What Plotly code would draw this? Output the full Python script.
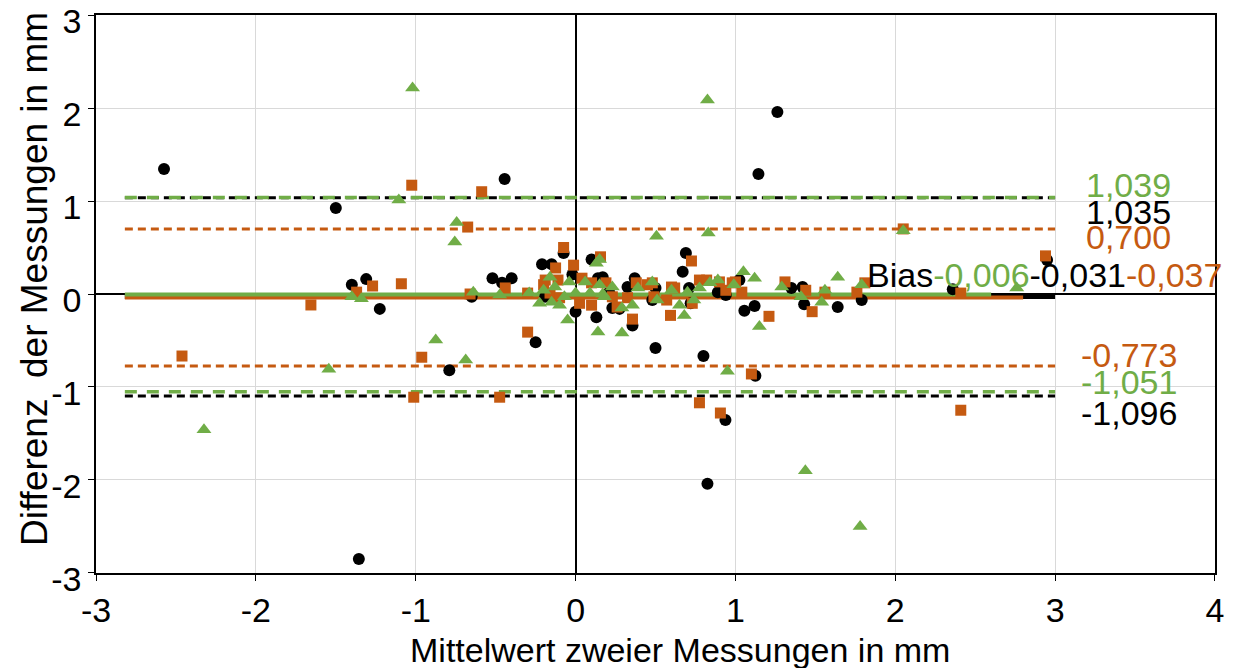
import plotly.graph_objects as go

# Mean of two measurements (x) and their difference (y), three comparisons
black_x = [-2.575, -1.5, -1.40, -1.31, -1.225, -1.356, -0.79, -0.65, -0.52, -0.46, -0.444, -0.40,
           -0.25, -0.21, -0.19, -0.15, -0.075, -0.02, 0.0, 0.10, 0.13, 0.14, 0.17, 0.21, 0.23,
           0.275, 0.325, 0.356, 0.37, 0.48, 0.50, 0.50, 0.67, 0.69, 0.71, 0.72, 0.80, 0.825, 0.89,
           0.94, 0.9375, 1.025, 1.056, 1.12, 1.125, 1.144, 1.2625, 1.35, 1.42, 1.43, 1.64, 1.79,
           2.36, 2.95]
black_y = [1.344, 0.925, 0.10, 0.16, -0.16, -2.85, -0.82, -0.03, 0.17, 0.12, 1.237, 0.17,
           -0.52, 0.32, -0.03, 0.32, 0.44, 0.21, -0.19, 0.37, -0.25, 0.17, 0.18, 0.02, -0.15,
           -0.16, 0.075, -0.34, 0.17, -0.065, 0.065, -0.58, 0.24, 0.44, 0.065, -0.10, -0.667, -2.04,
           0.02, -0.01, -1.355, 0.15, -0.18, -0.13, -0.88, 1.29, 1.957, 0.065, 0.075, -0.11, -0.14,
           -0.065, 0.05, 0.366]

orange_x = [-2.4625, -1.656, -1.37, -1.27, -1.09, -1.025, -1.0125, -0.9625, -0.675, -0.66, -0.5875,
            -0.475, -0.44, -0.30, -0.30, -0.20, -0.19, -0.16, -0.125, -0.11, -0.10, -0.075, -0.0125,
            0.025, 0.04, 0.10, 0.10, 0.156, 0.19, 0.23, 0.26, 0.325, 0.356, 0.38, 0.45, 0.48, 0.49,
            0.57, 0.594, 0.60, 0.62, 0.725, 0.73, 0.775, 0.775, 0.82, 0.90, 0.906, 0.94, 0.98, 1.0,
            1.04, 1.10, 1.21, 1.31, 1.44, 1.48, 1.56, 1.76, 1.81, 2.05, 2.41, 2.41, 2.94]
orange_y = [-0.667, -0.118, 0.02, 0.086, 0.11, 1.17, -1.11, -0.68, 0.72, 0.0, 1.10,
            -1.11, 0.065, -0.41, 0.01, 0.10, 0.15, 0.01, 0.28, 0.15, -0.04, 0.50, 0.31,
            -0.10, 0.17, 0.12, -0.12, 0.40, 0.12, -0.03, -0.14, -0.04, -0.27, 0.12, 0.10, 0.12, -0.03,
            -0.065, -0.23, 0.075, 0.065, 0.355, -0.10, 0.15, -1.17, 0.15, 0.13, -1.28, 0.04, 0.12, 0.13,
            0.02, -0.86, -0.24, 0.13, 0.04, -0.19, 0.02, 0.02, 0.12, 0.70, 0.01, -1.25, 0.41]

green_x = [-2.325, -1.544, -1.40, -1.34, -1.106, -1.02, -0.875, -0.756, -0.744, -0.6875, -0.64,
           -0.475, -0.29, -0.225, -0.20, -0.16, -0.15, -0.13, -0.10, -0.07, -0.05, -0.04, 0.0, 0.06,
           0.09, 0.13, 0.14, 0.15, 0.15, 0.17, 0.18, 0.23, 0.29, 0.29, 0.356, 0.39, 0.48, 0.506, 0.51,
           0.60, 0.65, 0.68, 0.70, 0.74, 0.775, 0.825, 0.83, 0.84, 0.89, 0.95, 0.99, 1.05, 1.12, 1.15,
           1.29, 1.41, 1.4375, 1.54, 1.56, 1.64, 1.78, 1.79, 2.05, 2.76]
green_y = [-1.46, -0.81, -0.03, -0.05, 1.01, 2.215, -0.495, 0.56, 0.77, -0.71, 0.02,
           -0.01, 0.01, -0.10, 0.04, 0.18, -0.09, 0.075, -0.12, -0.03, -0.28, 0.13, 0.01, 0.13,
           0.01, 0.33, -0.41, 0.10, 0.37, 0.0, -0.03, 0.075, -0.15, -0.42, -0.12, 0.065, 0.13, 0.62, -0.065,
           0.04, -0.12, -0.23, 0.02, -0.065, 0.065, 2.086, 0.655, 0.12, 0.15, -0.83, 0.10, 0.24, 0.17, -0.35,
           0.075, -0.03, -1.90, -0.09, 0.04, 0.18, -2.50, 0.10, 0.68, 0.065]

# Bias and limits of agreement
black_bias, black_upper, black_lower = -0.031, 1.035, -1.096
orange_bias, orange_upper, orange_lower = -0.037, 0.700, -0.773
green_bias, green_upper, green_lower = -0.006, 1.039, -1.051

line_x_start = -2.82
line_x_end = 3.0
bias_end = {"black": 3.0, "orange": 2.8, "green": 2.6}

BLACK = "#000000"
ORANGE = "#C55A11"
GREEN = "#70AD47"
FONT = "Liberation Sans, Arial, sans-serif"
FS = 34

def fmt(v):
    return f"{v:.3f}".replace(".", ",")

fig = go.Figure()

def hline(y, color, dash, width, x1=line_x_end):
    fig.add_trace(go.Scatter(x=[line_x_start, x1], y=[y, y], mode="lines",
                             line=dict(color=color, dash=dash, width=width),
                             showlegend=False, hoverinfo="skip"))

# limits of agreement (dashed)
hline(orange_upper, ORANGE, "8px,5px", 3)
hline(orange_lower, ORANGE, "8px,5px", 3)
hline(black_upper, BLACK, "8px,5px", 3)
hline(black_lower, BLACK, "8px,5px", 3)
hline(green_upper, GREEN, "12px,10px", 3.5)
hline(green_lower, GREEN, "12px,10px", 3.5)

# bias lines (solid)
hline(black_bias, BLACK, "solid", 4, bias_end["black"])
hline(orange_bias, ORANGE, "solid", 4, bias_end["orange"])
hline(green_bias, GREEN, "solid", 4, bias_end["green"])

fig.add_trace(go.Scatter(x=black_x, y=black_y, mode="markers", showlegend=False,
                         marker=dict(symbol="circle", size=12, color=BLACK)))
fig.add_trace(go.Scatter(x=orange_x, y=orange_y, mode="markers", showlegend=False,
                         marker=dict(symbol="square", size=11, color=ORANGE)))
fig.add_trace(go.Scatter(x=green_x, y=green_y, mode="markers", showlegend=False,
                         marker=dict(symbol="triangle-up", size=13, color=GREEN)))

# value labels on the right
labels = [
    (fmt(green_upper), GREEN, 1.17),
    (fmt(black_upper), BLACK, 0.88),
    (fmt(orange_upper), ORANGE, 0.61),
    (fmt(orange_lower), ORANGE, -0.656),
    (fmt(green_lower), GREEN, -0.946),
    (fmt(black_lower), BLACK, -1.28),
]
for text, color, ypos in labels:
    fig.add_annotation(x=3.46, y=ypos, xref="x", yref="y", text=text, showarrow=False,
                       font=dict(family=FONT, size=FS, color=color),
                       xanchor="center", yanchor="middle")

bias_text = (f"Bias<span style='color:{GREEN}'>{fmt(green_bias)}</span>"
             f"{fmt(black_bias)}<span style='color:{ORANGE}'>{fmt(orange_bias)}</span>")
fig.add_annotation(x=1.81, y=0.2, xref="x", yref="y", text=bias_text, showarrow=False,
                   font=dict(family=FONT, size=FS, color=BLACK),
                   xanchor="left", yanchor="middle")

# axis titles
fig.add_annotation(x=0.522, y=-0.138, xref="paper", yref="paper",
                   text="Mittelwert zweier Messungen in mm", showarrow=False,
                   font=dict(family=FONT, size=FS, color=BLACK),
                   xanchor="center", yanchor="middle")
fig.add_annotation(x=-0.0545, y=0.527, xref="paper", yref="paper",
                   text="Differenz  der Messungen in mm", showarrow=False, textangle=-90,
                   font=dict(family=FONT, size=37, color=BLACK),
                   xanchor="center", yanchor="middle")

x_ticks = [-3, -2, -1, 0, 1, 2, 3, 4]
y_ticks = [-3, -2, -1, 0, 1, 2, 3]

axis_common = dict(showgrid=True, gridcolor="#d9d9d9", gridwidth=1,
                   zeroline=True, zerolinecolor=BLACK, zerolinewidth=1.5,
                   showline=True, linecolor=BLACK, linewidth=1.5, mirror=True,
                   ticks="outside", ticklen=6, tickcolor=BLACK,
                   ticklabeloverflow="allow", automargin=False,
                   tickfont=dict(family=FONT, size=FS, color=BLACK))

fig.update_layout(
    width=1235, height=668,
    margin=dict(l=96, r=20, t=15, b=95),
    paper_bgcolor="white", plot_bgcolor="white",
    xaxis=dict(range=[-3.0005, 4.0005], tickvals=x_ticks, ticktext=[str(v) for v in x_ticks], **axis_common),
    yaxis=dict(range=[-3.0005, 3.0005], tickvals=y_ticks, ticktext=[str(v) for v in y_ticks],
               ticklabelshift=6, **axis_common),
)

fig.write_html("out.html")
